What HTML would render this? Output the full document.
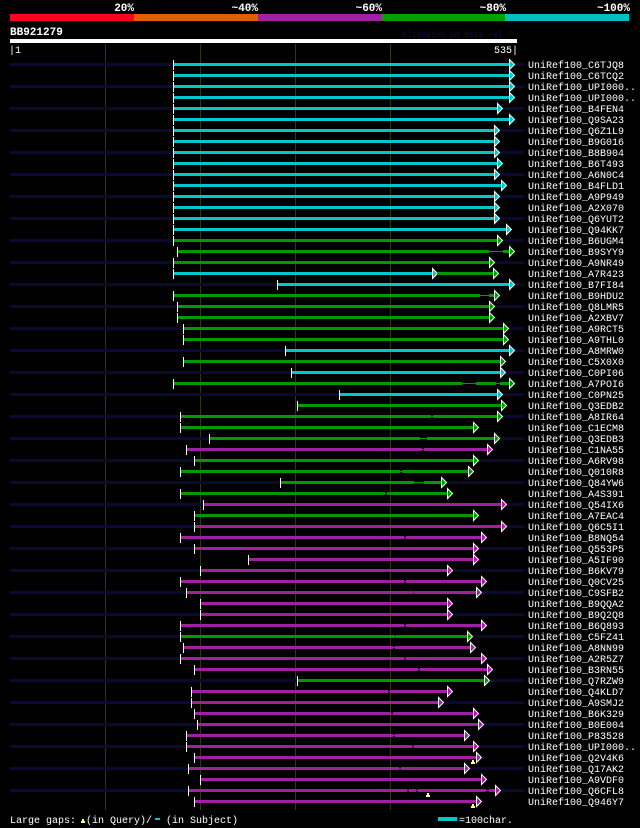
<!DOCTYPE html>
<html><head><meta charset="utf-8"><style>
html,body{margin:0;padding:0;background:#000;}
svg{display:block;font-family:"Liberation Mono",monospace;}
</style></head><body>
<svg id="chart" width="640" height="828" xmlns="http://www.w3.org/2000/svg">
<rect x="0" y="0" width="640" height="828" fill="#000"/>
<g>
<rect x="10" y="14" width="124" height="7" fill="#ff0022"/>
<rect x="134" y="14" width="124" height="7" fill="#e06000"/>
<rect x="258" y="14" width="123" height="7" fill="#a020a0"/>
<rect x="381" y="14" width="124" height="7" fill="#00a000"/>
<rect x="505" y="14" width="124" height="7" fill="#00c0c0"/>
<g fill="#fff" font-size="11" font-weight="bold" text-anchor="end">
<text x="134" y="11">20%</text><text x="258" y="11">~40%</text><text x="382" y="11">~60%</text><text x="506" y="11">~80%</text><text x="630" y="11">~100%</text>
</g></g>
<text x="10" y="35" fill="#fff" font-size="11" font-weight="bold">BB921279</text>
<text x="402" y="37" fill="#101040" font-size="8">AlignView.pm Beta rel.7</text>
<rect x="10" y="39" width="507" height="4" fill="#fff"/>
<text x="9" y="53" fill="#fff" font-size="10">|1</text>
<text x="518" y="53" fill="#fff" font-size="10" text-anchor="end">535|</text>
<g id="grid"></g>
<g id="rows"></g>
<g font-size="10" fill="#fff">
<text x="10" y="823">Large gaps:</text>
<path d="M81 823 h4 v-2 h-1 v-2 h-2 v2 h-1 z" fill="#ffff80"/>
<text x="86" y="823">(in Query)/</text>
<rect x="155" y="818" width="5" height="2" fill="#00c8c8"/>
<text x="166" y="823">(in Subject)</text>
<rect x="438" y="817" width="19" height="4" fill="#00c8c8"/>
<text x="459" y="823">=100char.</text>
</g>
</svg>
<script>
const names=["C6TJQ8","C6TCQ2","UPI000..","UPI000..","B4FEN4","Q9SA23","Q6Z1L9","B9G016","B8B904","B6T493","A6N0C4","B4FLD1","A9P949","A2X070","Q6YUT2","Q94KK7","B6UGM4","B9SYY9","A9NR49","A7R423","B7FI84","B9HDU2","Q8LMR5","A2XBV7","A9RCT5","A9THL0","A8MRW0","C5X0X0","C0PI06","A7POI6","C0PN25","Q3EDB2","A8IR64","C1ECM8","Q3EDB3","C1NA55","A6RV98","Q010R8","Q84YW6","A4S391","Q54IX6","A7EAC4","Q6C5I1","B8NQ54","Q553P5","A5IF90","B6KV79","Q0CV25","C9SFB2","B9QQA2","B9Q2Q8","B6Q893","C5FZ41","A8NN99","A2R5Z7","B3RN55","Q7RZW9","Q4KLD7","A9SMJ2","B6K329","B0E004","P83528","UPI000..","Q2V4K6","Q17AK2","A9VDF0","Q6CFL8","Q946Y7"];
const segs=[
[[173,532,'C']],[[173,532,'C']],[[173,532,'C']],[[173,532,'C']],[[173,519,'C']],[[173,532,'C']],
[[173,516,'C']],[[173,516,'C']],[[173,516,'C']],[[173,519,'C']],[[173,516,'C']],[[173,523,'C']],
[[173,516,'C']],[[173,516,'C']],[[173,516,'C']],[[173,529,'C']],[[173,519,'G']],
[[177,506,'G'],[506,520,'G',1],[520,532,'G']],
[[173,511,'G']],
[[173,451,'C',2],[451,515,'G']],
[[282,532,'C']],
[[173,496,'G'],[496,505,'G',1],[505,516,'G']],
[[177,511,'G']],[[177,511,'G']],[[183,526,'G']],[[183,526,'G']],[[291,532,'C']],[[183,522,'G']],[[297,522,'C']],
[[173,477,'G'],[477,492,'G',1],[492,513,'G'],[513,517,'G',1],[517,532,'G']],
[[347,519,'C']],[[303,523,'G']],
[[180,444,'G'],[444,446,'G',1],[446,519,'G']],
[[180,494,'G']],
[[211,433,'G'],[433,440,'G',1],[440,516,'G']],
[[186,435,'M'],[435,437,'M',1],[437,509,'M']],
[[195,494,'G']],
[[180,412,'G'],[412,414,'G',1],[414,489,'G']],
[[285,426,'G'],[426,437,'G',1],[437,460,'G']],
[[180,396,'G'],[396,398,'G',1],[398,467,'G']],
[[204,523,'M']],[[195,494,'G']],[[195,523,'M']],
[[180,416,'M'],[416,418,'M',1],[418,502,'M']],
[[195,494,'M']],[[252,494,'M']],[[201,467,'M']],
[[180,416,'M'],[416,418,'M',1],[418,502,'M']],
[[186,425,'M'],[425,427,'M',1],[427,497,'M']],
[[201,467,'M']],[[201,467,'M']],
[[180,416,'M'],[416,418,'M',1],[418,502,'M']],
[[180,406,'G'],[406,408,'G',1],[408,488,'G']],
[[183,404,'M'],[404,407,'M',1],[407,491,'M']],
[[180,416,'M'],[416,418,'M',1],[418,502,'M']],
[[195,431,'M'],[431,433,'M',1],[433,509,'M']],
[[303,506,'G']],
[[192,399,'M'],[399,401,'M',1],[401,467,'M']],
[[192,457,'M']],
[[195,402,'M'],[402,404,'M',1],[404,494,'M']],
[[198,499,'M']],
[[186,404,'M'],[404,406,'M',1],[406,484,'M']],
[[186,424,'M'],[424,426,'M',1],[426,494,'M']],
[[195,497,'M']],
[[189,411,'M'],[411,413,'M',1],[413,484,'M']],
[[201,502,'M']],
[[189,419,'M'],[419,421,'M',1],[421,429,'M'],[429,431,'M',1],[431,502,'M'],[502,505,'M',1],[505,517,'M']],
[[195,497,'M']]
];
const queryGaps=[[64,488],[67,440],[68,488]];
const gridTicks=[101,201,301,401];
const QLEN=535;
const colors={C:'#00c8c8',G:'#009900',M:'#a020a0'};
const NS='http://www.w3.org/2000/svg';
function xs(c){return Math.round(10+(c-1)*507/(QLEN-1));}
function ys(i){return 64+i*11;}
function mk(t,a,p){const e=document.createElementNS(NS,t);for(const k in a)e.setAttribute(k,a[k]);p.appendChild(e);return e;}
const grid=document.getElementById('grid');
gridTicks.forEach(t=>{
  const l=mk('line',{x1:xs(t)+0.5,y1:44,x2:xs(t)+0.5,y2:810,stroke:'#34340f','stroke-width':1},grid);
  
  
});
const rows=document.getElementById('rows');
segs.forEach((row,i)=>{
  const y=ys(i);
  const g=mk('g',{},rows);
  
  
  if(i%2===0){mk('rect',{x:10,y:y-1,width:514,height:3,fill:'#0a0a30'},g);}
  row.forEach((s,j)=>{
    const last=j===row.length-1;
    const type=s[3]||0;
    const col=colors[s[2]];
    const arrow=last||type===2;
    const x1=xs(s[0]),tip=xs(s[1]);
    const x2=arrow?tip-5:tip;
    if(type===1){mk('rect',{x:x1,y:y,width:Math.max(0,x2-x1),height:1,fill:col},g);}
    else{
      const r=mk('rect',{x:x1,y:y-1,width:Math.max(0,x2-x1),height:3,fill:col},g);
      
      
    }
    if(arrow){
      const p=mk('polygon',{points:(x2+0.5)+','+(y-4.5)+' '+(tip+0.5)+','+(y+0.5)+' '+(x2+0.5)+','+(y+5.5),fill:col,stroke:'#fff','stroke-width':1},g);
      
      
    }
  });
  mk('rect',{x:xs(row[0][0]),y:y-4,width:1,height:10,fill:'#fff'},g);
  const t=mk('text',{x:528,y:y+4,fill:'#fff','font-size':10},g);
  t.textContent='UniRef100_'+names[i];
  
  
});
queryGaps.forEach(q=>{
  const x=xs(q[1]),y=ys(q[0]-1);
  const p=mk('path',{d:'M'+(x-1)+' '+(y+7)+' h4 v-2 h-1 v-2 h-2 v2 h-1 z',fill:'#ffff80'},rows);
  
  
});
</script>
</body></html>
